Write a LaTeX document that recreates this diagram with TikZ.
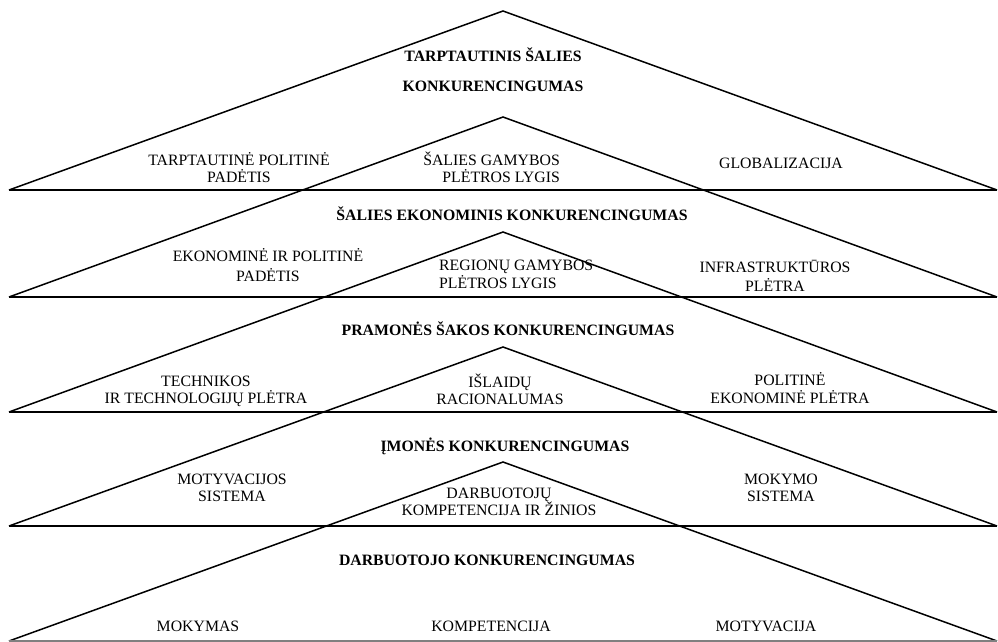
\documentclass[tikz,border=0pt]{standalone}
\usepackage{fontspec}
\setmainfont{Liberation Serif}
\newfontfamily\tnrfont{Liberation Serif}
\begin{document}
\begin{tikzpicture}[x=1pt,y=-1pt,
  side/.style={line width=1.5pt},
  baseln/.style={line width=1.6pt},
  lbl/.style={font=\tnrfont\fontsize{15.8}{17}\selectfont, inner sep=0pt, align=center,
    execute at begin node={\rule{0pt}{14pt}},
    execute at end node={\rule[-4pt]{0pt}{4pt}}},
  ttl/.style={lbl, font=\tnrfont\fontsize{15.8}{17}\selectfont\bfseries}]
\useasboundingbox (0,0) rectangle (998,642);
% triangle corners
\coordinate (A1) at (503,11);  \coordinate (L1) at (9,190); \coordinate (R1) at (997,190);
\coordinate (A2) at (503,117); \coordinate (L2) at (9,297); \coordinate (R2) at (997,297);
\coordinate (A3) at (503,232); \coordinate (L3) at (9,412); \coordinate (R3) at (997,412);
\coordinate (A4) at (503,347); \coordinate (L4) at (9,526); \coordinate (R4) at (997,526);
\coordinate (A5) at (503,462); \coordinate (L5) at (9,641); \coordinate (R5) at (997,641);
\draw[side] (L1) -- (A1) -- (R1); \draw[baseln] (L1) -- (R1);
\draw[side] (L2) -- (A2) -- (R2); \draw[baseln] (L2) -- (R2);
\draw[side] (L3) -- (A3) -- (R3); \draw[baseln] (L3) -- (R3);
\draw[side] (L4) -- (A4) -- (R4); \draw[baseln] (L4) -- (R4);
\draw[side] (L5) -- (A5) -- (R5); \draw[baseln, gray] (L5) -- (R5);
% level 1
\node[ttl] (t1) at (493,72) {TARPTAUTINIS ŠALIES\\[13pt]KONKURENCINGUMAS};
\node[lbl] (a1) at (239,169.5) {TARPTAUTINĖ POLITINĖ\\PADĖTIS};
\node[lbl, anchor=east, align=right] (b1) at (560,169.5) {ŠALIES GAMYBOS\\PLĖTROS LYGIS};
\node[lbl] (c1) at (781,163) {GLOBALIZACIJA};
% level 2
\node[ttl] (t2) at (512,215) {ŠALIES EKONOMINIS KONKURENCINGUMAS};
\node[lbl] (a2) at (268,267) {EKONOMINĖ IR POLITINĖ\\[3pt]PADĖTIS};
\node[lbl, anchor=west, align=left] (b2) at (439,276) {REGIONŲ GAMYBOS\\[1pt]PLĖTROS LYGIS};
\node[lbl] (c2) at (775,277.5) {INFRASTRUKTŪROS\\[2pt]PLĖTRA};
% level 3
\node[ttl] (t3) at (508,330) {PRAMONĖS ŠAKOS KONKURENCINGUMAS};
\node[lbl] (a3) at (206,391.5) {TECHNIKOS\\IR TECHNOLOGIJŲ PLĖTRA};
\node[lbl] (b3) at (500,391) {IŠLAIDŲ\\RACIONALUMAS};
\node[lbl] (c3) at (790,390) {POLITINĖ\\[1pt]EKONOMINĖ PLĖTRA};
% level 4
\node[ttl] (t4) at (505,446) {ĮMONĖS KONKURENCINGUMAS};
\node[lbl] (a4) at (232,490) {MOTYVACIJOS\\SISTEMA};
\node[lbl] (b4) at (499,503.5) {DARBUOTOJŲ\\KOMPETENCIJA IR ŽINIOS};
\node[lbl] (c4) at (781,490) {MOKYMO\\SISTEMA};
% level 5
\node[ttl] (t5) at (487,560) {DARBUOTOJO KONKURENCINGUMAS};
\node[lbl] (a5) at (198,626) {MOKYMAS};
\node[lbl] (b5) at (491,626) {KOMPETENCIJA};
\node[lbl] (c5) at (766,626) {MOTYVACIJA};
\end{tikzpicture}
\end{document}
